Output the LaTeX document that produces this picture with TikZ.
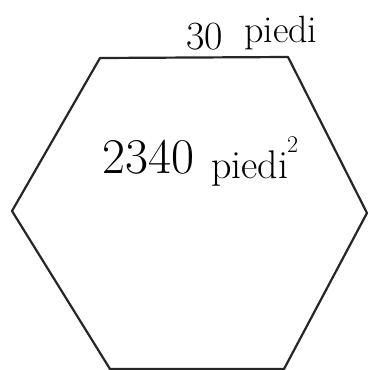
\documentclass[tikz,border=0pt]{standalone}
\usepackage{fontspec}
\begin{document}
\begin{tikzpicture}[x=1pt,y=-1pt,
  edge/.style={draw=black!85,line width=2.2pt,line join=round},
  lbl/.style={anchor=base west,inner sep=0pt}]
\useasboundingbox[fill=white] (0,0) rectangle (368,370);
\coordinate (tl) at (100,58);
\coordinate (tr) at (288,57);
\coordinate (r) at (367,213);
\coordinate (br) at (284,369);
\coordinate (bl) at (110,369);
\coordinate (l) at (12,211);
\draw[edge] (tl) -- (tr) -- (r) -- (br) -- (bl) -- (l) -- cycle;
\node[lbl] (thirty) at (186,49) {\fontsize{40}{40}\selectfont 30};
\node[lbl] (side) at (244,42) {\fontsize{38}{38}\selectfont piedi};
\node[lbl] (num) at (102,173) {\fontsize{50}{50}\selectfont 2340};
\node[lbl] (unit) at (211,178) {\fontsize{40}{40}\selectfont piedi};
\node[lbl] (sq) at (287,152) {\fontsize{24}{24}\selectfont 2};
\end{tikzpicture}
\end{document}
